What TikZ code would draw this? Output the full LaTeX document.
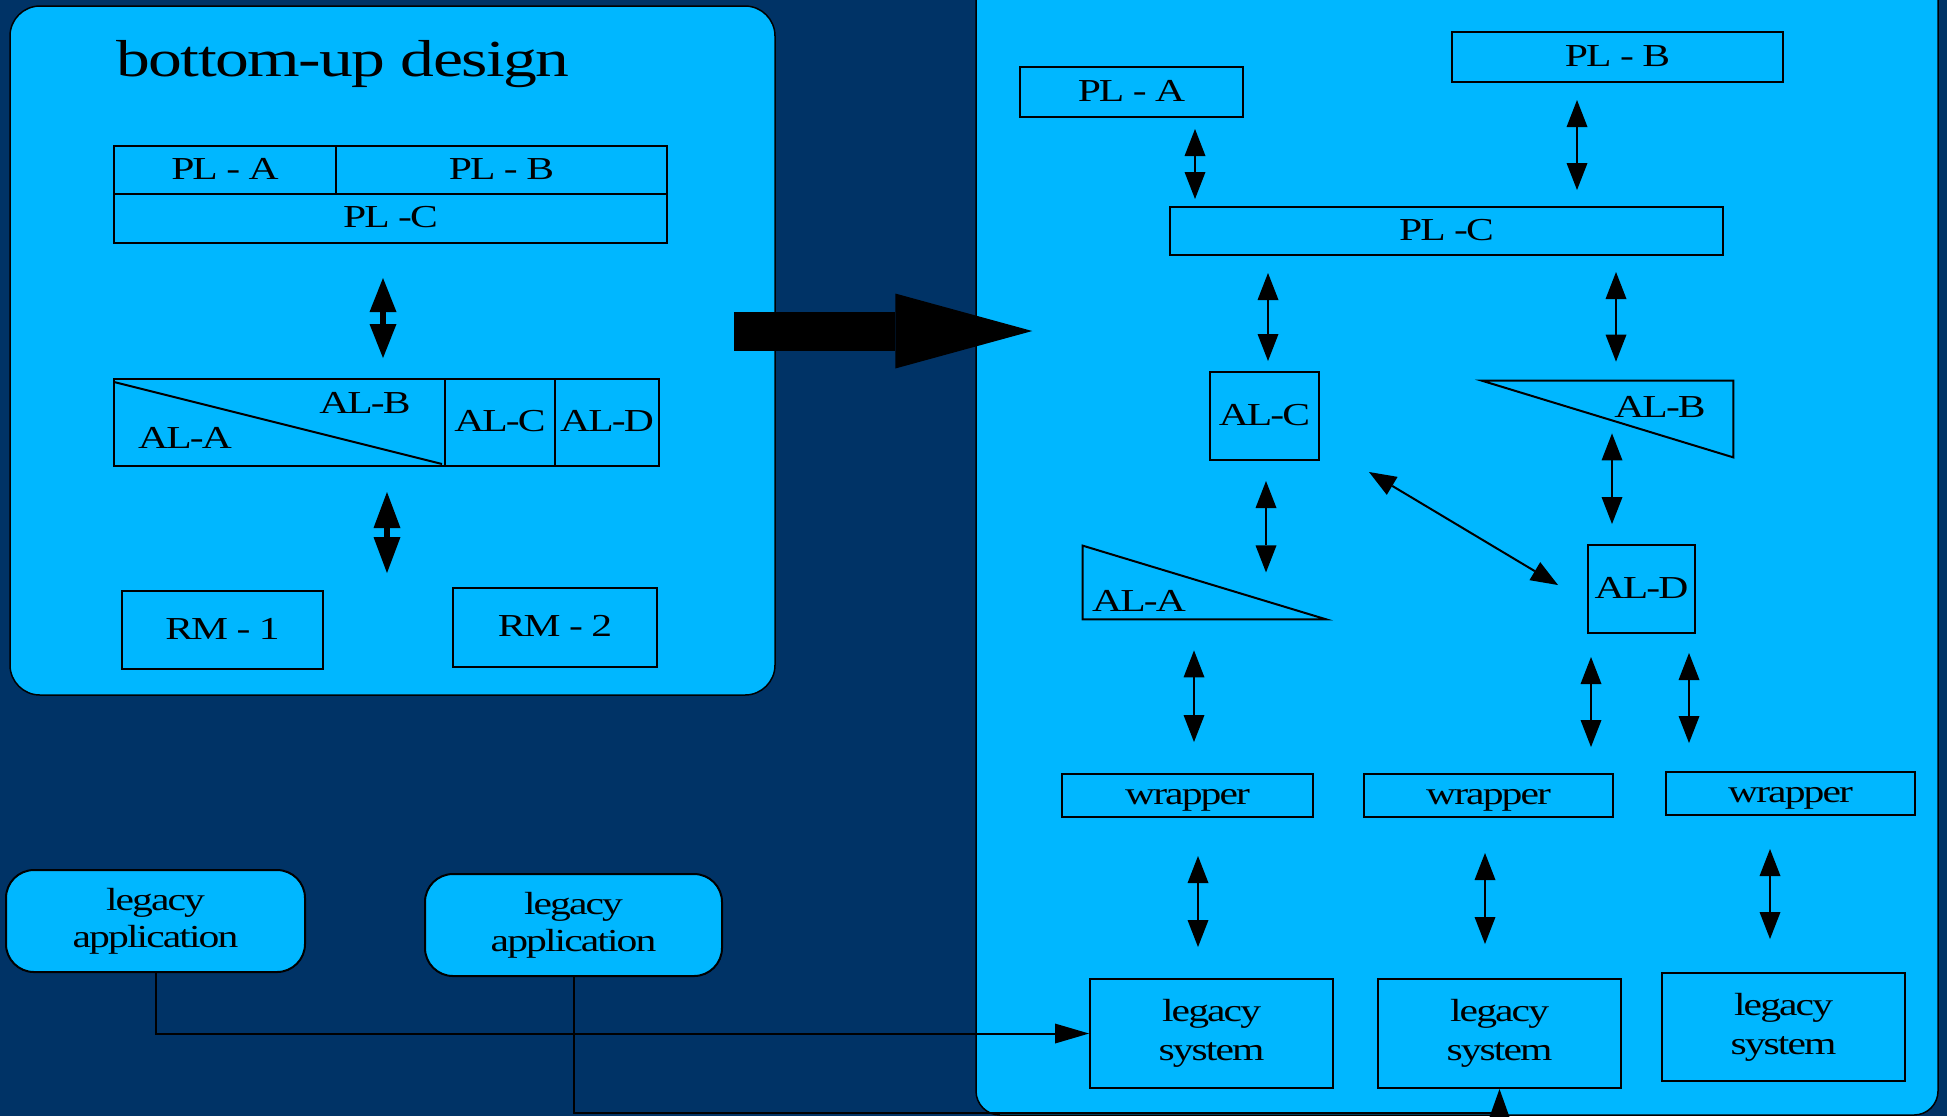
\documentclass[tikz,border=0pt]{standalone}
\usepackage{fontspec}
\setmainfont{Liberation Serif}[FakeStretch=1.3,LetterSpace=-6]
\newfontfamily\titlefont{Liberation Serif}[FakeStretch=1.3,LetterSpace=-3]
\usetikzlibrary{arrows.meta,calc}
\definecolor{slidebg}{RGB}{0,51,102}
\definecolor{panelblue}{RGB}{0,183,255}

\tikzset{
  panel/.style={draw=black, line width=0.75pt, fill=panelblue, inner sep=0pt},
  box/.style={draw=black, line width=1pt, inner sep=0pt,
    font=\fontsize{16}{19.5}\selectfont, text height=10.5pt, text depth=1.5pt},
  twoline/.style={draw=black, line width=1pt, inner sep=0pt, align=center,
    font=\fontsize{16}{19.5}\selectfont},
  lbl/.style={inner sep=0pt, anchor=base, font=\fontsize{16}{19.5}\selectfont},
  fathead/.tip={Triangle[length=17pt,width=13.5pt,line width=0pt]},
  fathead2/.tip={Triangle[length=18pt,width=13.5pt,line width=0pt]},
  thinhead/.tip={Triangle[length=13.5pt,width=10.5pt,line width=0pt]},
  fatdbl/.style={line width=3pt, fathead-fathead},
  fatdbltwo/.style={line width=3pt, fathead2-fathead2},
  dbl/.style={line width=1pt, thinhead-thinhead},
  feed/.style={line width=1pt, -{Triangle[length=17pt,width=10pt,line width=0pt]}},
  feedtwo/.style={line width=1pt, -{Triangle[length=14pt,width=10pt,line width=0pt]}},
  bigarrow/.style={line width=19.5pt, -{Triangle[length=68.5pt,width=37.5pt,line width=0pt]}},
  tri/.style={line width=1pt, line join=miter},
}

\begin{document}
\begin{tikzpicture}[x=0.5pt,y=-0.5pt]
\useasboundingbox (0,0) rectangle (1947,1116);
\fill[slidebg] (0,0) rectangle (1947,1116);
\clip (0,0) rectangle (1947,1116);

% ---------- left panel: bottom-up design ----------
\node[panel, rounded corners=15pt, minimum width=382.5pt, minimum height=344.5pt] (lpanel) at (392.5,350.5) {};
\node[inner sep=0pt, anchor=base west, font=\titlefont\fontsize{26}{30}\selectfont] (title) at (116,76) {bottom-up design};

\node[box, minimum width=111pt, minimum height=24pt] (plAl) at (225,170) {PL - A};
\node[box, minimum width=165.5pt, minimum height=24pt] (plBl) at (501.5,170) {PL - B};
\node[box, minimum width=276.5pt, minimum height=24.5pt] (plCl) at (390.5,218.5) {PL -C};

\node[box, minimum width=165.5pt, minimum height=43.5pt] (alABl) at (279.5,422.5) {};
\node[box, minimum width=55pt, minimum height=43.5pt] (alCl) at (500,422.5) {AL-C};
\node[box, minimum width=52pt, minimum height=43.5pt] (alDl) at (607,422.5) {AL-D};
\draw[line width=1pt] ($(alABl.north west)+(1,4)$) -- ($(alABl.south east)+(-4,-3)$);
\node[lbl] (alAtxtL) at (185,448) {AL-A};
\node[lbl] (alBtxtL) at (365,413) {AL-B};

\node[box, minimum width=100.5pt, minimum height=39pt] (rm1) at (222.5,630) {RM - 1};
\node[box, minimum width=102pt, minimum height=39.5pt] (rm2) at (555,627.5) {RM - 2};

\draw[fatdbl, shorten <=17pt, shorten >=10pt] (383,0 |- plCl.south) -- (383,0 |- alABl.north);
\draw[fatdbltwo, shorten <=12.5pt, shorten >=8.5pt] (387,0 |- alABl.south) -- (387,0 |- rm1.north);

% ---------- right panel: layered architecture ----------
\node[panel, rounded corners=12pt, minimum width=481pt, minimum height=577.5pt] (rpanel) at (1457,537.5) {};

\node[box, minimum width=111.5pt, minimum height=25pt] (plA) at (1131.5,92) {PL - A};
\node[box, minimum width=165.5pt, minimum height=25pt] (plB) at (1617.5,57) {PL - B};
\node[box, minimum width=276.5pt, minimum height=24pt] (plC) at (1446.5,231) {PL -C};

\node[box, minimum width=54.5pt, minimum height=44pt] (alC) at (1264.5,416) {AL-C};
\node[inner sep=0pt, minimum width=125.5pt, minimum height=38pt] (alBr) at (1607.5,419) {};
\draw[tri] (alBr.north west) -- (alBr.south east) -- (alBr.north east) -- cycle;
\node[lbl] (alBt) at (1660,417) {AL-B};

\node[box, minimum width=53.5pt, minimum height=44pt] (alD) at (1641.5,589) {AL-D};

\node[inner sep=0pt, minimum width=121.5pt, minimum height=36.5pt] (alAr) at (1204.5,582.5) {};
\draw[tri] (alAr.north west) -- (alAr.south east) -- (alAr.south west) -- cycle;
\node[lbl] (alAt) at (1139,611) {AL-A};

\node[box, minimum width=125.5pt, minimum height=21.5pt] (w1) at (1187.5,795.5) {wrapper};
\node[box, minimum width=124.5pt, minimum height=21.5pt] (w2) at (1488.5,795.5) {wrapper};
\node[box, minimum width=124.5pt, minimum height=21.5pt] (w3) at (1790.5,793.5) {wrapper};

\node[twoline, minimum width=121.5pt, minimum height=54.5pt] (ls1) at (1211.5,1033.5) {legacy\\system};
\node[twoline, minimum width=121.5pt, minimum height=54.5pt] (ls2) at (1499.5,1033.5) {legacy\\system};
\node[twoline, minimum width=121.5pt, minimum height=54pt] (ls3) at (1783.5,1027) {legacy\\system};

\draw[dbl, shorten <=5.5pt, shorten >=3.5pt] (1195,0 |- plA.south) -- (1195,0 |- plC.north);
\draw[dbl, shorten <=8.5pt, shorten >=8pt] (1577,0 |- plB.south) -- (1577,0 |- plC.north);
\draw[dbl, shorten <=8.5pt, shorten >=5pt] (1268,0 |- plC.south) -- (1268,0 |- alC.north);
\draw[dbl, shorten <=8pt, shorten >=9.5pt] (1616,0 |- plC.south) -- (1616,0 |- alBr.north);
\draw[dbl, shorten <=-12pt, shorten >=10pt] (1612,0 |- alBr.south) -- (1612,0 |- alD.north);
\draw[dbl] ($(alC.south east)+(49,11)$) -- ($(alD.west)+(-29,-4)$);
\draw[dbl, shorten <=10pt, shorten >=23.5pt] (1266,0 |- alC.south) -- (1266,0 |- alAr.south);
\draw[dbl, shorten <=15.5pt, shorten >=15.5pt] (1194,0 |- alAr.south) -- (1194,0 |- w1.north);
\draw[dbl, shorten <=11.5pt, shorten >=13pt] (1591,0 |- alD.south) -- (1591,0 |- w2.north);
\draw[dbl, shorten <=9.5pt, shorten >=14pt] (1689,0 |- alD.south) -- (1689,0 |- w3.north);
\draw[dbl, shorten <=19pt, shorten >=15.5pt] (1198,0 |- w1.south) -- (1198,0 |- ls1.north);
\draw[dbl, shorten <=17.5pt, shorten >=17pt] (1485,0 |- w2.south) -- (1485,0 |- ls2.north);
\draw[dbl, shorten <=16.5pt, shorten >=16.5pt] (1770,0 |- w3.south) -- (1770,0 |- ls3.north);

% ---------- legacy applications and their links ----------
\node[twoline, fill=panelblue, rounded corners=14pt, minimum width=149.5pt, minimum height=51pt,
      font=\fontsize{16}{18.5}\selectfont] (la1) at (155.5,921) {legacy\\application};
\node[twoline, fill=panelblue, rounded corners=14pt, minimum width=148.5pt, minimum height=51pt,
      font=\fontsize{16}{18.5}\selectfont] (la2) at (573.5,925) {legacy\\application};

\draw[feed] (la1.south) |- (ls1.west);
\draw[feedtwo] (la2.south) -- (la2.south |- 0,1113) -| (ls2.south);

% ---------- transition arrow ----------
\draw[bigarrow, shorten <=-21pt, shorten >=-28.5pt] (lpanel.east |- 0,331) -- (rpanel.west |- 0,331);
\end{tikzpicture}
\end{document}
